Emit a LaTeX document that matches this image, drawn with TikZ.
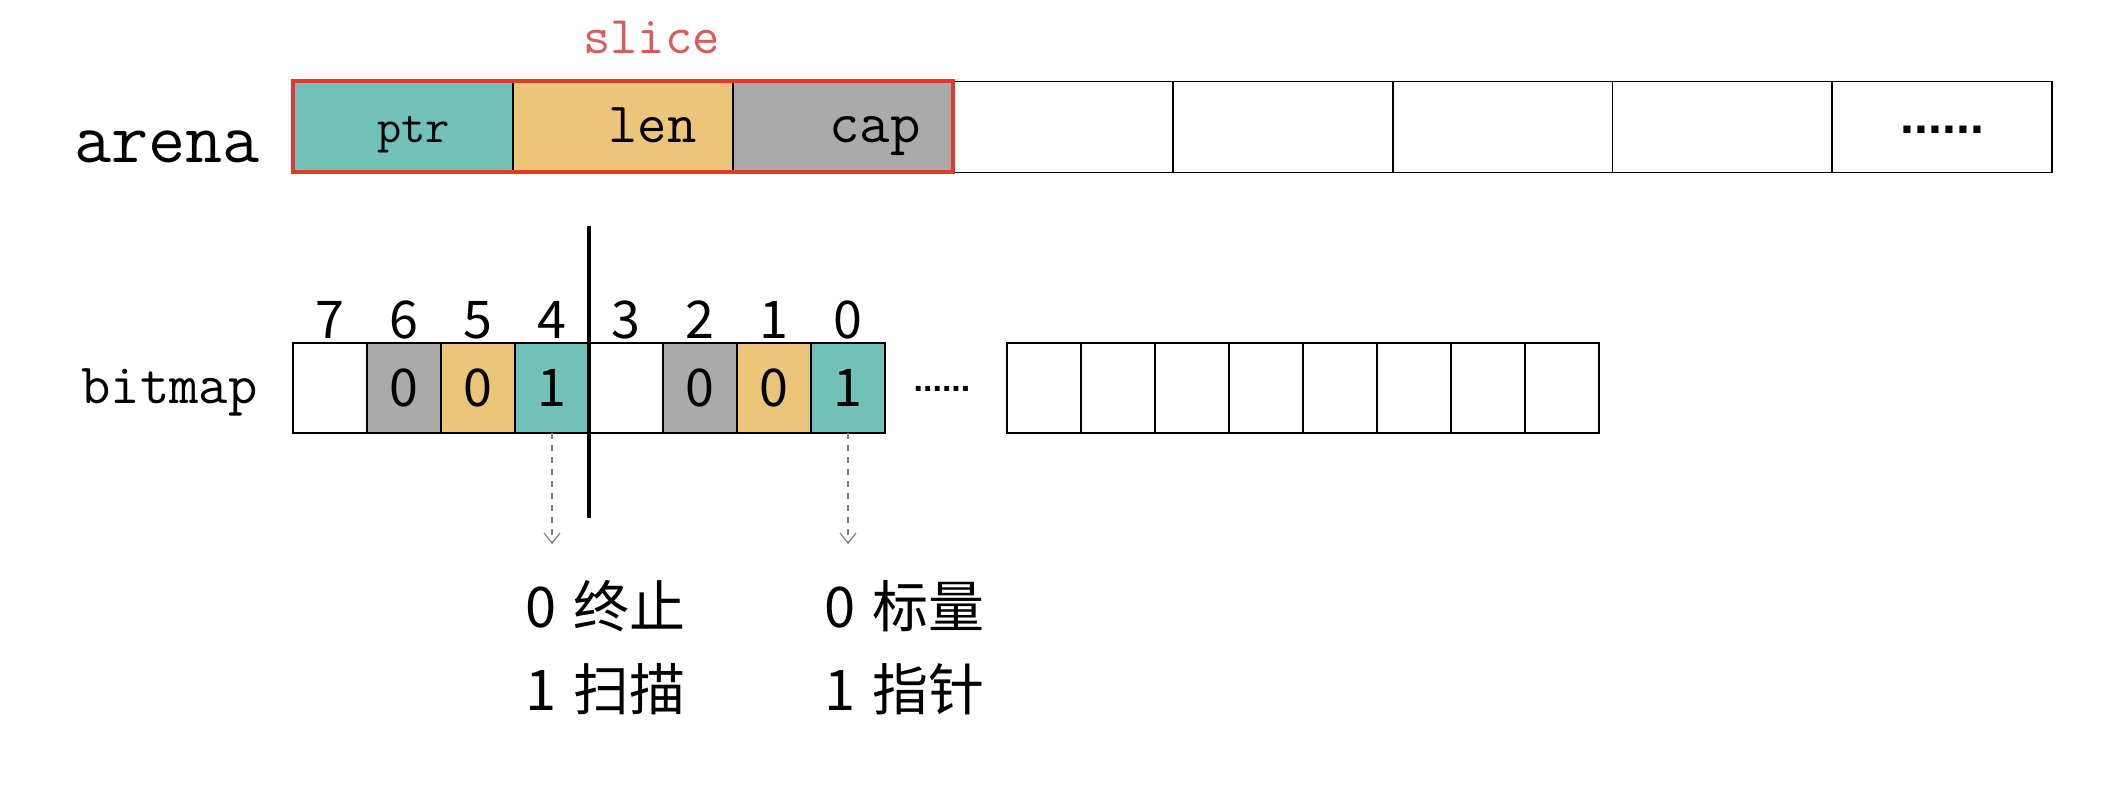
\documentclass[tikz,border=0pt]{standalone}
\usepackage{fontspec}
\newfontfamily\cjk{Noto Sans CJK SC}
\newfontfamily\dotfont{Liberation Sans}
\usetikzlibrary{arrows.meta, positioning, calc}
\definecolor{ptrgreen}{RGB}{114,193,184}
\definecolor{lenyellow}{RGB}{236,197,122}
\definecolor{capgray}{RGB}{170,170,170}
\definecolor{slicered}{RGB}{226,58,40}
\definecolor{slicetext}{RGB}{222,90,90}

\begin{document}
\begin{tikzpicture}[
                x=0.5pt, y=-0.5pt,
                slot/.style={draw, line width=0.9pt, minimum width=109.9pt, minimum height=45.5pt, inner sep=0pt, outer sep=0pt},
                bit/.style={draw, line width=0.9pt, minimum width=37pt, minimum height=45pt, inner sep=0pt, outer sep=0pt, font=\cjk\fontsize{26}{26}\selectfont},
                word/.style={font=\ttfamily\fontsize{28.5}{28.5}\selectfont, anchor=base west, inner sep=0pt},
                note/.style={font=\cjk\fontsize{28}{28}\selectfont, anchor=base west, inner sep=0pt},
                hint/.style={draw=gray, dashed, line width=0.6pt, -{Straight Barb[length=5pt, width=8pt]}},
        ]
        \useasboundingbox[fill=white] (0,0) rectangle (2110,812);

        % arena
        \node[word, font=\ttfamily\fontsize{36}{36}\selectfont] (arena) at (74,163) {arena};
        \foreach \i/\c in {0/ptrgreen,1/lenyellow,2/capgray,3/white,4/white,5/white,6/white,7/white}
                \node[slot, fill=\c] (a\i) at ({403+219.9*\i},127) {};
        \node[word, font=\ttfamily\fontsize{23.5}{23.5}\selectfont] (ptr) at (377,143) {ptr};
        \node[word] (len) at (608,143) {len};
        \node[word, font=\ttfamily\fontsize{29.5}{29.5}\selectfont] (cap) at (829,143) {cap};
        \node[font=\dotfont\bfseries\fontsize{25}{25}\selectfont, anchor=base, inner sep=0pt] (more) at ($(a7.center)+(0,7)$) {......};
        \draw[slicered, line width=2pt] (a0.north west) rectangle (a2.south east);
        \node[word, text=slicetext, font=\ttfamily\fontsize{26.5}{26.5}\selectfont] (slice) at (583,54) {slice};

        % bitmap
        \node[word] (bitmap) at (81,404) {bitmap};
        \foreach \n/\c/\v in {7/white/{},6/capgray/0,5/lenyellow/0,4/ptrgreen/1,3/white/{},2/capgray/0,1/lenyellow/0,0/ptrgreen/1}
        {
                \node[bit, fill=\c] (b\n) at ({330+74*(7-\n)},388) {\v};
                \node[font=\cjk\fontsize{26}{26}\selectfont, anchor=base, inner sep=0pt] (n\n) at ($(b\n.north)+(0,-4)$) {\n};
        }
        \node[font=\dotfont\bfseries\fontsize{17}{17}\selectfont, anchor=base, inner sep=0pt] (gap) at (942,392) {......};
        \foreach \i in {0,...,7}
                \node[bit] (c\i) at ({1044+74*\i},388) {};

        % split and meaning
        \coordinate (cuttop) at (589,226);
        \coordinate (cutbot) at (589,518);
        \draw[line width=2pt] (cuttop) -- (cutbot);
        \coordinate (t4) at ($(b4.south)+(0,111)$);
        \coordinate (t0) at ($(b0.south)+(0,111)$);
        \draw[hint] (b4.south) -- (t4);
        \draw[hint] (b0.south) -- (t0);
        \node[note] (stop) at (525,627) {0\hspace{0.3em}终止};
        \node[note] (scan) at (525,710) {1\hspace{0.3em}扫描};
        \node[note] (scalar) at (824,627) {0\hspace{0.3em}标量};
        \node[note] (pointer) at (824,710) {1\hspace{0.3em}指针};
\end{tikzpicture}
\end{document}
